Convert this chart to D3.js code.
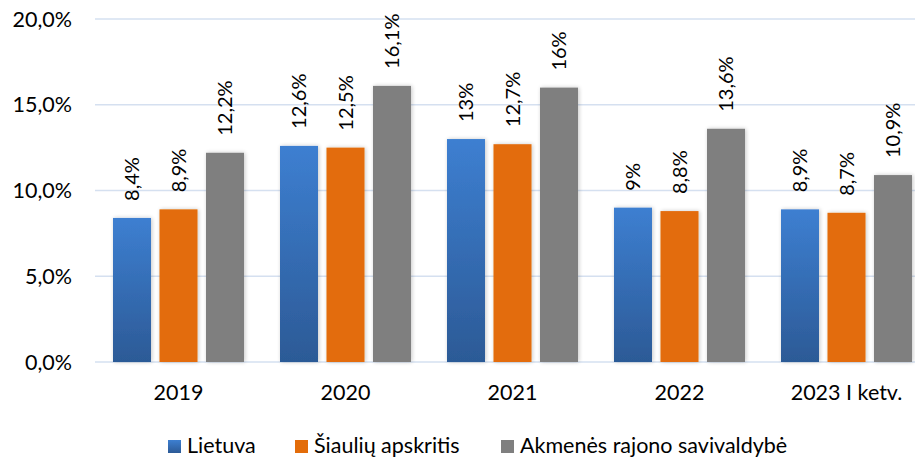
<!DOCTYPE html>
<html>
<head>
<meta charset="utf-8">
<script src="https://cdn.jsdelivr.net/npm/d3@7"></script>
<style>
  body { margin: 0; background: #fff; }
  text { font-family: Lato, "Liberation Sans", sans-serif; fill: #000; }
</style>
</head>
<body>
<div id="chart"></div>
<script>
// data
const years = ["2019", "2020", "2021", "2022", "2023 I ketv."];
const seriesNames = ["Lietuva", "Šiaulių apskritis", "Akmenės rajono savivaldybė"];
const lietuva = [8.4, 12.6, 13, 9, 8.9];
const siauliai = [8.9, 12.5, 12.7, 8.8, 8.7];
const akmene = [12.2, 16.1, 16, 13.6, 10.9];
const yTicks = [0, 5, 10, 15, 20];

const colors = ["url(#blueGrad)", "#e36c09", "#7f7f7f"];

const width = 915, height = 459;
const axisFont = "21.5px", labelFont = "20px";
const svg = d3.select("#chart").append("svg")
  .attr("width", width).attr("height", height);

const defs = svg.append("defs");
const grad = defs.append("linearGradient").attr("id", "blueGrad")
  .attr("x1", 0).attr("y1", 0).attr("x2", 0).attr("y2", 1);
grad.append("stop").attr("offset", "0%").attr("stop-color", "#3d7fd1");
grad.append("stop").attr("offset", "100%").attr("stop-color", "#2c5a96");

// soft shadow round the bars
const shadow = defs.append("filter").attr("id", "shadow")
  .attr("x", "-20%").attr("y", "-10%").attr("width", "140%").attr("height", "120%");
shadow.append("feGaussianBlur").attr("in", "SourceAlpha").attr("stdDeviation", 2);
shadow.append("feOffset").attr("dx", 1).attr("dy", 0).attr("result", "b");
shadow.append("feComponentTransfer").append("feFuncA").attr("type", "linear").attr("slope", 0.22);
const merge = shadow.append("feMerge");
merge.append("feMergeNode");
merge.append("feMergeNode").attr("in", "SourceGraphic");

// scales
const x = d3.scaleBand().domain(years).range([95, 930]);
const y = d3.scaleLinear().domain([0, 20]).range([362, 19]);
const barW = 38, gap = 8.5;

// gridlines
svg.append("g").selectAll("line")
  .data(yTicks)
  .join("line")
    .attr("x1", 95).attr("x2", width)
    .attr("y1", d => y(d)).attr("y2", d => y(d))
    .attr("stroke", "#d5e0f0").attr("stroke-width", 1.5);

// y labels
svg.append("g").selectAll("text")
  .data(yTicks)
  .join("text")
    .attr("x", 72).attr("y", d => y(d))
    .attr("dy", "0.36em")
    .attr("text-anchor", "end")
    .style("font-size", axisFont)
    .text(d => d3.format(".1f")(d).replace(".", ",") + "%");

// x labels
svg.append("g").selectAll("text")
  .data(years)
  .join("text")
    .attr("x", d => x(d) + x.bandwidth() / 2)
    .attr("y", 400)
    .attr("text-anchor", "middle")
    .style("font-size", axisFont)
    .text(d => d);

const allSeries = [lietuva, siauliai, akmene];
const fmt = v => String(v).replace(".", ",") + "%";

allSeries.forEach((vals, s) => {
  const offset = (s - 1) * (barW + gap) - barW / 2;
  svg.append("g").selectAll("rect")
    .data(vals)
    .join("rect")
      .attr("x", (d, i) => x(years[i]) + x.bandwidth() / 2 + offset)
      .attr("y", d => y(d))
      .attr("width", barW)
      .attr("height", d => y(0) - y(d))
      .attr("fill", colors[s])
      .attr("filter", "url(#shadow)");

  svg.append("g").selectAll("text")
    .data(vals)
    .join("text")
      .attr("transform", (d, i) => {
        const cx = x(years[i]) + x.bandwidth() / 2 + offset + barW / 2;
        return `translate(${cx},${y(d) - 17}) rotate(-90)`;
      })
      .attr("dy", "0.36em")
      .attr("text-anchor", "start")
      .style("font-size", labelFont)
      .text(d => fmt(d));
});

// legend
const legendX = [168, 295, 501];
const legend = svg.append("g");
seriesNames.forEach((name, i) => {
  legend.append("rect")
    .attr("x", legendX[i]).attr("y", 440)
    .attr("width", 13).attr("height", 13)
    .attr("fill", colors[i]);
  legend.append("text")
    .attr("x", legendX[i] + 19).attr("y", 453)
    .style("font-size", axisFont)
    .text(name);
});
</script>
</body>
</html>
